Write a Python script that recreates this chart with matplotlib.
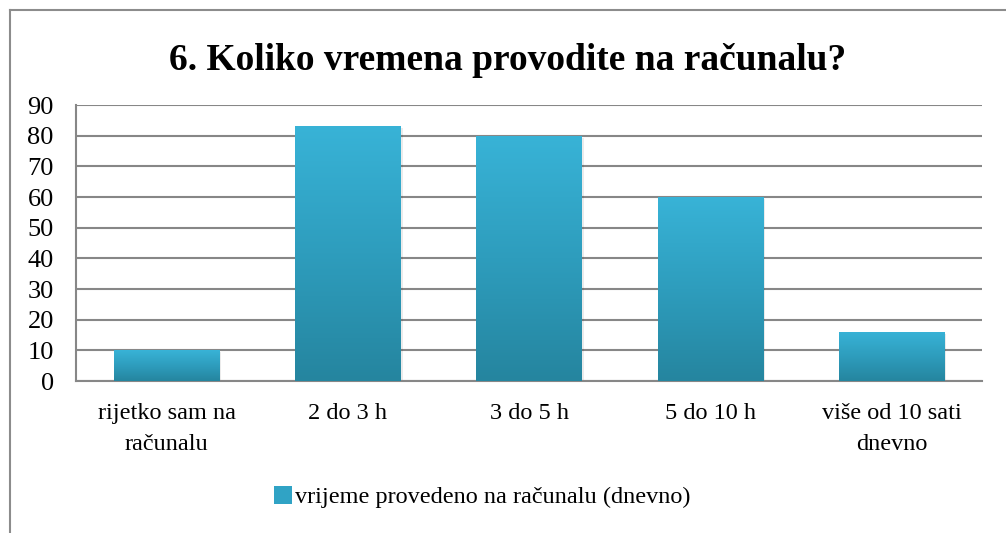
import matplotlib
matplotlib.use("Agg")
import matplotlib.pyplot as plt
import numpy as np
from matplotlib.colors import LinearSegmentedColormap
from matplotlib.patches import Patch, Rectangle
from matplotlib.lines import Line2D

categories = ["rijetko sam na\nračunalu", "2 do 3 h", "3 do 5 h", "5 do 10 h", "više od 10 sati\ndnevno"]
values = [10, 83, 80, 60, 16]
series_name = "vrijeme provedeno na računalu (dnevno)"
title = "6. Koliko vremena provodite na računalu?"
yticks = list(range(0, 100, 10))

plt.rcParams['font.family'] = ['Liberation Serif', 'DejaVu Serif']

fig = plt.figure(figsize=(10.06, 5.33), dpi=100)
ax = fig.add_axes([76/1006, 1-381/533, (982-76)/1006, (381-105)/533])

cmap = LinearSegmentedColormap.from_list("g", ["#25859F", "#2E9DBD", "#38B3D7"])
x = np.arange(len(categories))
bars = ax.bar(x, values, width=0.58, color="none", zorder=3)
grad = np.linspace(0, 1, 256).reshape(-1, 1)
for b in bars:
    x0, y0 = b.get_x(), b.get_y()
    w, h = b.get_width(), b.get_height()
    ax.add_patch(Rectangle((x0 + 0.012, y0), w, h - 0.6, facecolor="#000000", alpha=0.08,
                           edgecolor="none", zorder=2.5))
    im = ax.imshow(grad, cmap=cmap, aspect="auto", origin="lower",
                   extent=[x0, x0 + w, y0, y0 + h], zorder=3, interpolation="bilinear")
    im.set_clip_path(b)

ax.set_xlim(-0.5, len(categories) - 0.5)
ax.set_ylim(0, 90)
ax.set_yticks(yticks)
ax.set_xticks(x)
ax.set_xticklabels(categories, fontsize=17.5, linespacing=1.6)
ax.tick_params(axis='y', labelsize=19, length=0, pad=16)
ax.tick_params(axis='x', length=0, pad=16)
ax.grid(axis='y', color="#878787", linewidth=1.5, zorder=1)
ax.set_axisbelow(True)
for s in ["top", "right"]:
    ax.spines[s].set_visible(False)
ax.spines["left"].set_color("#878787")
ax.spines["left"].set_linewidth(1.5)
ax.spines["bottom"].set_color("#878787")
ax.spines["bottom"].set_linewidth(1.5)

fig.text(508/1006, 1-60/533, title, ha="center", va="center", fontsize=27, fontweight="bold")

handle = Patch(facecolor="#30A3C5", edgecolor="none")
fig.legend([handle], [series_name], loc="center", bbox_to_anchor=(482/1006, 1-497/533),
           frameon=False, fontsize=17.5, handlelength=0.75, handleheight=0.75, handletextpad=0.1)

fig.add_artist(Line2D([9.5/1006, 9.5/1006], [0, 1-9.5/533], transform=fig.transFigure,
                      color="#8C8C8C", linewidth=1.5))
fig.add_artist(Line2D([9.5/1006, 1], [1-9.5/533, 1-9.5/533], transform=fig.transFigure,
                      color="#8C8C8C", linewidth=1.5))

fig.savefig("out.png", dpi=100)
